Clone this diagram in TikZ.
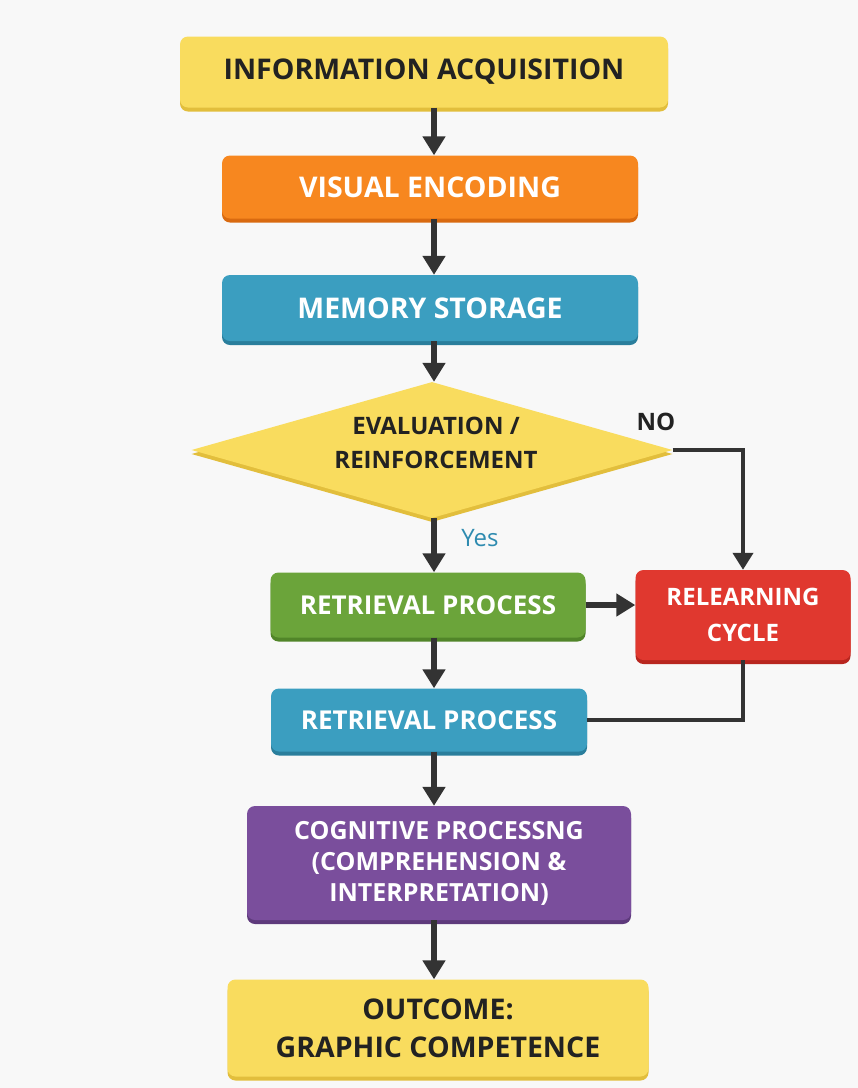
\documentclass[tikz,border=0pt]{standalone}
\usepackage{fontspec}
\setmainfont{Open Sans}
\usetikzlibrary{shapes.geometric,arrows.meta}
\definecolor{bg}{HTML}{F8F8F8}
\definecolor{yel}{HTML}{F9DC5E}
\definecolor{yeld}{HTML}{E2BE3C}
\definecolor{org}{HTML}{F7871F}
\definecolor{orgd}{HTML}{D96A10}
\definecolor{blu}{HTML}{3B9EC0}
\definecolor{blud}{HTML}{2A7E9C}
\definecolor{grn}{HTML}{6BA43A}
\definecolor{grnd}{HTML}{518529}
\definecolor{red}{HTML}{E0382F}
\definecolor{redd}{HTML}{B8261F}
\definecolor{pur}{HTML}{7A4E9C}
\definecolor{purd}{HTML}{5E3A7C}
\definecolor{txt}{HTML}{222222}
\definecolor{ln}{HTML}{333333}
\definecolor{yestxt}{HTML}{2E8BB0}
\tikzset{
  box/.style 2 args={rounded corners=8pt, inner sep=0pt, align=center, fill=#1,
    preaction={fill=#2, transform canvas={yshift=-4pt}}},
  fbig/.style={font=\bfseries\fontsize{28.5}{36}\selectfont},
  fmid/.style={font=\bfseries\fontsize{26}{32}\selectfont},
  fsml/.style={font=\bfseries\fontsize{24}{34}\selectfont},
  arr/.style={draw=ln, line width=6pt, -{Triangle[length=19pt,width=22pt]}},
  conn/.style={draw=ln, line width=4pt},
  conarr/.style={draw=ln, line width=4pt, -{Triangle[length=17pt,width=20pt]}},
}
\begin{document}
\begin{tikzpicture}[x=1pt,y=-1pt]
\useasboundingbox[fill=bg] (0,0) rectangle (858,1088);
\coordinate (ax) at (434,0);

\node[box={yel}{yeld}, fbig, text=txt, minimum width=488pt, minimum height=71pt] (acq) at (424,72) {INFORMATION ACQUISITION};
\node[box={org}{orgd}, fbig, text=white, minimum width=416pt, minimum height=63pt] (enc) at (430,187) {VISUAL ENCODING};
\node[box={blu}{blud}, fbig, text=white, minimum width=416pt, minimum height=66pt] (mem) at (430,308) {MEMORY STORAGE};
\node[diamond, inner sep=0pt, aspect=3.54, fill=yel, preaction={fill=yeld, transform canvas={yshift=-4pt}}, minimum width=481pt, minimum height=136pt] (eva) at (432,450) {};
\node[align=center, fsml, text=txt, inner sep=0pt] (evatxt) at (436,443) {EVALUATION /\\REINFORCEMENT};
\node[box={grn}{grnd}, fmid, text=white, minimum width=315pt, minimum height=65pt] (ret1) at (428,605) {RETRIEVAL PROCESS};
\node[box={red}{redd}, text=white, minimum width=215pt, minimum height=90pt, font=\bfseries\fontsize{24}{36}\selectfont] (rel) at (743,615) {RELEARNING\\CYCLE};
\node[box={blu}{blud}, fmid, text=white, minimum width=316pt, minimum height=63pt] (ret2) at (429,720) {RETRIEVAL PROCESS};
\node[box={pur}{purd}, text=white, minimum width=384pt, minimum height=114pt, font=\bfseries\fontsize{25}{31}\selectfont] (cog) at (439,863) {COGNITIVE PROCESSNG\\(COMPREHENSION \&\\INTERPRETATION)};
\node[box={yel}{yeld}, text=txt, minimum width=421pt, minimum height=97pt, font=\bfseries\fontsize{28.5}{38}\selectfont] (out) at (438,1028) {OUTCOME:\\GRAPHIC COMPETENCE};

\draw[arr] (acq.south -| ax) -- (enc.north -| ax);
\draw[arr] (enc.south -| ax) -- (mem.north -| ax);
\draw[arr] (mem.south -| ax) -- (eva.north -| ax);
\draw[arr] (eva.south -| ax) -- (ret1.north -| ax);
\draw[arr] (ret1.south -| ax) -- (ret2.north -| ax);
\draw[arr] (ret2.south -| ax) -- (cog.north -| ax);
\draw[arr] (cog.south -| ax) -- (out.north -| ax);

\draw[conarr] (eva.east) -| (rel.north);
\draw[arr] (ret1.east) -- (ret1.east -| rel.west);
\draw[conn] (rel.south) |- (ret2.east);

\node[font=\bfseries\fontsize{24}{28}\selectfont, text=txt] (no) at (656,422) {NO};
\node[font=\fontsize{24}{28}\selectfont, text=yestxt] (yes) at (480,538) {Yes};
\end{tikzpicture}
\end{document}
